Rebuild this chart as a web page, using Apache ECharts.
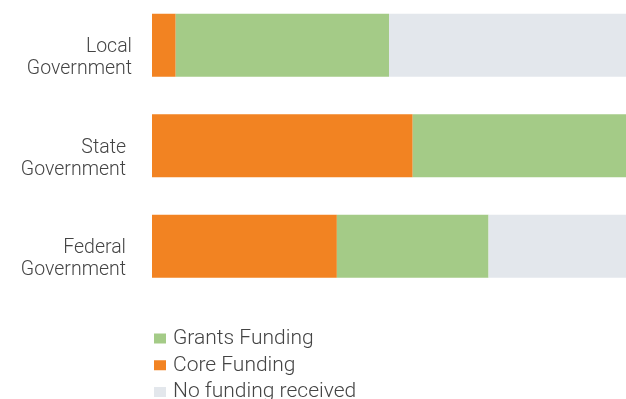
<!DOCTYPE html>
<html>
<head>
<meta charset="utf-8">
<script src="https://cdn.jsdelivr.net/npm/echarts@6/dist/echarts.min.js"></script>
<style>
  html, body { margin: 0; padding: 0; background: #fff; }
  #chart { width: 626px; height: 399px; }
</style>
</head>
<body>
<div id="chart"></div>
<script>
// Funding sources by level of government (percent of respondents)
const categories = ['Local\nGovernment', 'State\nGovernment', 'Federal\nGovernment'];
const coreFunding = [5, 55, 39];
const grantsFunding = [45, 45, 32];
const noFunding = [50, 0, 29];

const colors = {
  core: '#F28322',
  grants: '#A4CB87',
  none: '#E3E7EC'
};

const chart = echarts.init(document.getElementById('chart'));

const baseFont = {
  fontFamily: 'Roboto, Liberation Sans, Arial, sans-serif',
  fontWeight: 300,
  color: '#444444'
};

// Category labels sit a little below the bar centre: an empty spacer line on top
// pushes the two-line name downwards.
function categoryLabel(value) {
  return '{s| }\n' + value.split('\n').map(l => '{t|' + l + '}').join('\n');
}

chart.setOption({
  animation: false,
  grid: { left: 152, right: 0, top: -5, height: 301.5, containLabel: false, outerBoundsMode: 'none' },
  xAxis: {
    type: 'value',
    min: 0,
    max: 100,
    show: false
  },
  yAxis: {
    type: 'category',
    inverse: true,
    data: categories.map((c, i) => ({
      value: c,
      textStyle: { padding: [0, i === 0 ? 0 : 6, 0, 0] }
    })),
    axisLine: { show: false },
    axisTick: { show: false },
    axisLabel: Object.assign({
      margin: 20,
      align: 'right',
      fontSize: 19.5,
      lineHeight: 22,
      formatter: categoryLabel,
      rich: {
        s: { fontSize: 2, lineHeight: 26 },
        t: Object.assign({ fontSize: 19.5, lineHeight: 22, align: 'right' }, baseFont)
      }
    }, baseFont)
  },
  legend: {
    orient: 'vertical',
    left: 149,
    top: 323,
    height: 120,
    itemWidth: 12,
    itemHeight: 10,
    itemGap: 5.75,
    icon: 'rect',
    data: ['Grants Funding', 'Core Funding', 'No funding received'],
    textStyle: Object.assign({ lineHeight: 20, fontSize: 21, padding: [0, 0, 0, 2] }, baseFont)
  },
  series: [
    {
      name: 'Core Funding', type: 'bar', stack: 'total', barWidth: 63,
      itemStyle: { color: colors.core }, data: coreFunding
    },
    {
      name: 'Grants Funding', type: 'bar', stack: 'total', barWidth: 63,
      itemStyle: { color: colors.grants }, data: grantsFunding
    },
    {
      name: 'No funding received', type: 'bar', stack: 'total', barWidth: 63,
      itemStyle: { color: colors.none }, data: noFunding
    }
  ]
});
</script>
</body>
</html>
